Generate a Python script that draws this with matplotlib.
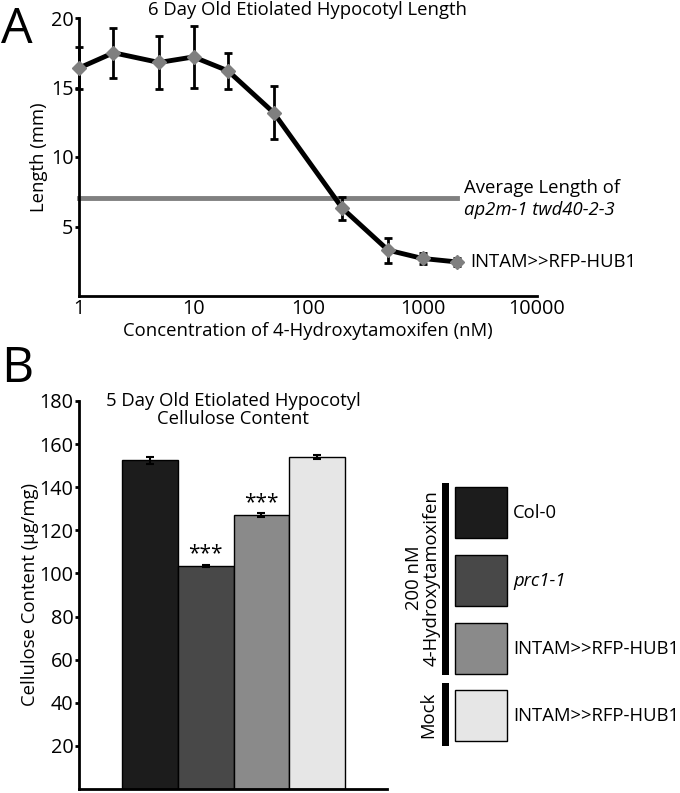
import numpy as np
import matplotlib.pyplot as plt

plt.rcParams['font.family'] = ['Open Sans', 'DejaVu Sans']

# panel A: hypocotyl length vs 4-OHT concentration
conc = [1, 2, 5, 10, 20, 50, 200, 500, 1000, 2000]
length = [16.4, 17.5, 16.8, 17.2, 16.2, 13.2, 6.3, 3.3, 2.7, 2.45]
length_err = [1.5, 1.8, 1.9, 2.2, 1.3, 1.9, 0.8, 0.9, 0.4, 0.3]
mutant_avg = 7.05

# panel B: cellulose content
genotypes = ["Col-0", "prc1-1", "INTAM>>RFP-HUB1", "INTAM>>RFP-HUB1"]
cellulose = [152.5, 103.5, 127, 154]
cellulose_err = [1.5, 0.6, 1.0, 0.8]
bar_colors = ["#1c1c1c", "#484848", "#8a8a8a", "#e6e6e6"]
signif = ["", "***", "***", ""]

fig = plt.figure(figsize=(6.8, 7.93), dpi=100)
W, H = 680, 793


def fx(px):
    return px / W


def fy(py):
    return 1 - py / H


fs = 13.3
tfs = 14.3

# ---------- A ----------
axA = fig.add_axes([fx(79), fy(296), fx(537 - 79), (296 - 18) / H])
axA.set_xscale("log")
axA.set_xlim(1, 10000)
axA.set_ylim(0, 20)
axA.plot([1, 2000], [mutant_avg, mutant_avg], color="#808080", lw=3.5, zorder=2,
         clip_on=False)
axA.errorbar(conc, length, yerr=length_err, fmt="none", ecolor="black",
             elinewidth=2, capsize=3, capthick=2, zorder=3, clip_on=False)
axA.plot(conc, length, color="black", lw=3.5, zorder=4, clip_on=False)
axA.plot(conc, length, ls="none", marker="D", ms=7, color="#7f7f7f", zorder=5,
         clip_on=False)
axA.set_xticks([1, 10, 100, 1000, 10000])
axA.set_xticklabels(["1", "10", "100", "1000", "10000"])
axA.xaxis.set_minor_locator(plt.NullLocator())
axA.set_yticks([5, 10, 15, 20])
for s in ["top", "right"]:
    axA.spines[s].set_visible(False)
for s in ["left", "bottom"]:
    axA.spines[s].set_linewidth(2)
axA.tick_params(labelsize=tfs, width=2, length=3, pad=1)
axA.tick_params(axis="x", length=0, pad=2)
fig.text(fx(308), fy(331), "Concentration of 4-Hydroxytamoxifen (nM)",
         fontsize=fs, ha="center", va="center")
axA.set_ylabel("Length (mm)", fontsize=fs, labelpad=2)
fig.text(fx(308), fy(10), "6 Day Old Etiolated Hypocotyl Length", fontsize=fs,
         ha="center", va="center")
axA.text(2300, 7.8, "Average Length of", fontsize=fs, va="center", ha="left")
axA.text(2300, 6.2, "ap2m-1 twd40-2-3", fontsize=fs, va="center", ha="left",
         style="italic")
axA.text(2600, 2.45, "INTAM>>RFP-HUB1", fontsize=fs, va="center", ha="left")

fig.text(fx(1), fy(43), "A", fontsize=36, va="baseline", ha="left")
fig.text(fx(1), fy(382), "B", fontsize=36, va="baseline", ha="left")

# ---------- B ----------
axB = fig.add_axes([fx(79), fy(789), fx(387 - 79), (789 - 401) / H])
x = np.arange(len(genotypes))
axB.bar(x, cellulose, width=1.0, color=bar_colors, edgecolor="black", lw=1)
axB.errorbar(x, cellulose, yerr=cellulose_err, fmt="none", ecolor="black",
             elinewidth=1.5, capsize=3, capthick=1.5)
for xi, v, e, s in zip(x, cellulose, cellulose_err, signif):
    if s:
        axB.text(xi, v + e, s, ha="center", va="bottom", fontsize=15)
axB.set_xlim(-1.28, 4.26)
axB.set_ylim(0, 180)
axB.set_yticks(np.arange(20, 181, 20))
axB.set_xticks([])
for s in ["top", "right"]:
    axB.spines[s].set_visible(False)
for s in ["left", "bottom"]:
    axB.spines[s].set_linewidth(2)
axB.tick_params(labelsize=tfs, width=2, length=3, pad=1)
axB.set_ylabel("Cellulose Content (µg/mg)", fontsize=fs, labelpad=0)
fig.text(fx(233), fy(410), "5 Day Old Etiolated Hypocotyl\nCellulose Content",
         fontsize=fs, ha="center", va="center", linespacing=1.0)

# legend panel
axL = fig.add_axes([0, 0, 1, 1], facecolor="none")
axL.set_xlim(0, W)
axL.set_ylim(H, 0)
axL.axis("off")
sw_top = [487, 555, 623, 690]
for top, c, g in zip(sw_top, bar_colors, genotypes):
    axL.add_patch(plt.Rectangle((455, top), 52, 51, facecolor=c,
                                edgecolor="black", lw=1))
    axL.text(513, top + 26, g, fontsize=fs, va="center", ha="left",
             style="italic" if g == "prc1-1" else "normal")
axL.add_patch(plt.Rectangle((442, 483), 7, 192, facecolor="black", lw=0))
axL.add_patch(plt.Rectangle((442, 683), 7, 63, facecolor="black", lw=0))
axL.text(423, 578, "200 nM\n4-Hydroxytamoxifen", fontsize=fs, rotation=90,
         ha="center", va="center", linespacing=1.0)
axL.text(428, 715, "Mock", fontsize=fs, rotation=90, ha="center", va="center")

fig.savefig("out.png", dpi=100)
